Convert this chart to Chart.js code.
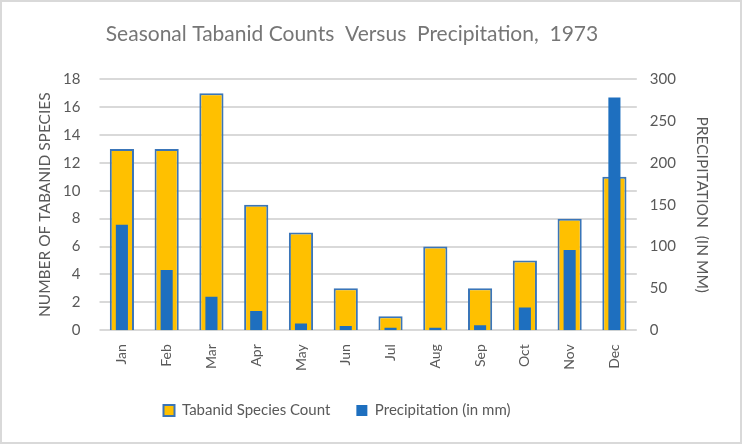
<!DOCTYPE html>
<html>
<head>
<meta charset="utf-8">
<script src="https://cdn.jsdelivr.net/npm/chart.js@4"></script>
<style>
  html, body { margin: 0; padding: 0; background: #fff; }
  #wrap { position: relative; width: 742px; height: 444px; }
  #frame { position: absolute; left: 0; top: 0; width: 742px; height: 444px;
           box-sizing: border-box; border: 2px solid #d9d9d9; pointer-events: none; }
</style>
</head>
<body>
<div id="wrap">
  <canvas id="chart" width="742" height="444"></canvas>
  <div id="frame"></div>
</div>
<script>
const months = ['Jan', 'Feb', 'Mar', 'Apr', 'May', 'Jun', 'Jul', 'Aug', 'Sep', 'Oct', 'Nov', 'Dec'];
const speciesCount = [13, 13, 17, 9, 7, 3, 1, 6, 3, 5, 8, 11];
const precipitationMm = [126, 72, 40, 23, 8, 5, 3, 3, 6, 27, 96, 278];
const countAxis = { min: 0, max: 18, step: 2 };
const precipAxis = { min: 0, max: 300, step: 50 };

const grey = '#595959';
const font = 'Lato, "Liberation Sans", sans-serif';

// title and legend are not centred on the page in the original
const shiftBoxes = {
    id: 'shiftBoxes',
    afterLayout(chart) {
        chart.titleBlock.left -= 19;
        chart.titleBlock.right -= 19;
        chart.legend.left -= 34;
        chart.legend.right -= 34;
    },
};

// horizontal gridlines at the left axis ticks, under the bars
const gridLines = {
    id: 'gridLines',
    beforeDatasetsDraw(chart) {
        const { ctx, chartArea, scales } = chart;
        const y = scales.y;
        ctx.save();
        ctx.strokeStyle = '#d9d9d9';
        ctx.lineWidth = 2;
        y.ticks.forEach(t => {
            const py = Math.round(y.getPixelForValue(t.value));
            ctx.beginPath();
            ctx.moveTo(chartArea.left, py);
            ctx.lineTo(chartArea.right, py);
            ctx.stroke();
        });
        ctx.restore();
    },
};

const chart = new Chart(document.getElementById('chart'), {
    type: 'bar',
    data: {
        labels: months,
        datasets: [
            {
                label: 'Tabanid Species Count',
                data: speciesCount,
                yAxisID: 'y',
                backgroundColor: '#FFC000',
                borderColor: '#3A75B8',
                borderWidth: 2,
                grouped: false,
                categoryPercentage: 1,
                barPercentage: 0.54,
                order: 1,
            },
            {
                label: 'Precipitation (in mm)',
                data: precipitationMm,
                yAxisID: 'y1',
                backgroundColor: '#1E6FBF',
                borderWidth: 0,
                grouped: false,
                categoryPercentage: 1,
                barPercentage: 0.27,
                order: 0,
            },
        ],
    },
    plugins: [shiftBoxes, gridLines],
    options: {
        responsive: false,
        animation: false,
        layout: { padding: { top: 0, bottom: 16, left: 0, right: 0 } },
        plugins: {
            title: {
                display: true,
                text: 'Seasonal Tabanid Counts  Versus  Precipitation,  1973',
                color: '#767676',
                font: { family: font, size: 21, weight: 'normal' },
                padding: { top: 22, bottom: 32 },
            },
            legend: {
                position: 'bottom',
                labels: {
                    color: grey,
                    font: { family: font, size: 15 },
                    boxWidth: 11,
                    boxHeight: 11,
                    padding: 26,
                    sort: (a, b) => a.datasetIndex - b.datasetIndex,
                },
            },
            tooltip: { enabled: false },
        },
        scales: {
            x: {
                grid: { display: false },
                border: { display: false },
                ticks: {
                    color: grey,
                    font: { family: font, size: 14 },
                    maxRotation: 90,
                    minRotation: 90,
                    padding: 6,
                },
            },
            y: {
                position: 'left',
                min: countAxis.min,
                max: countAxis.max,
                grid: { display: false },
                border: { display: false },
                ticks: { stepSize: countAxis.step, color: grey, font: { family: font, size: 15 }, padding: 11 },
                title: {
                    display: true,
                    text: 'NUMBER OF TABANID SPECIES',
                    color: grey,
                    font: { family: font, size: 15.5 },
                    padding: { top: 36, bottom: -2.5 },
                },
            },
            y1: {
                position: 'right',
                min: precipAxis.min,
                max: precipAxis.max,
                grid: { display: false },
                border: { display: false },
                ticks: { stepSize: precipAxis.step, color: grey, font: { family: font, size: 15 }, padding: 5 },
                title: {
                    display: true,
                    text: 'PRECIPITATION  (IN MM)',
                    color: grey,
                    font: { family: font, size: 15.5 },
                    padding: { top: 31, bottom: 11.5 },
                },
            },
        },
    },
});
</script>
</body>
</html>
